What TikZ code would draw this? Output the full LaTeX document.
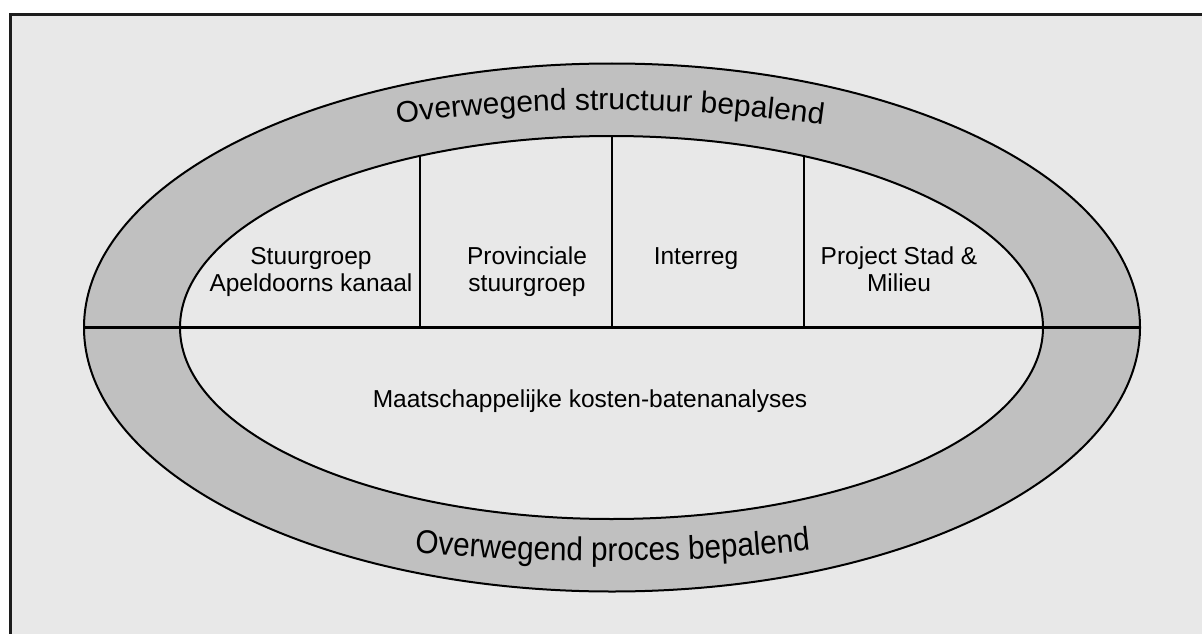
\documentclass[tikz,border=0pt]{standalone}
\usepackage{fontspec}
\setmainfont{Liberation Sans}
\newfontfamily\narrowsans[FakeStretch=0.9]{Liberation Sans}
\usetikzlibrary{shapes.geometric,decorations.text}
\definecolor{paper}{HTML}{E8E8E8}
\definecolor{ring}{HTML}{C0C0C0}
\definecolor{frame}{HTML}{1C1C1C}
\tikzset{
  ovalshape/.style={ellipse, inner sep=0pt, draw=black, line width=2pt},
  divider/.style={draw=black, line width=2.4pt},
  cell/.style={align=center, inner sep=0pt, anchor=north,
    font=\fontsize{24.5}{27}\selectfont},
  bandtext/.style={decorate, decoration={text along path, text align=center,
    text format delimiters={|}{|}}}
}
\begin{document}
\begin{tikzpicture}[x=1pt, y=-1pt]
  \clip (0,0) rectangle (1202,634);
  \fill[white] (0,0) rectangle (1202,634);
  % framed backdrop, running off the right and bottom edges
  \draw[frame, line width=3.5pt, fill=paper] (10.5,14.5) rectangle (1215,650);

  % grey band between the two ovals
  \node[ovalshape, fill=ring, minimum width=1056pt, minimum height=528pt] (outer) at (612,327.5) {};
  \node[ovalshape, fill=paper, minimum width=863pt, minimum height=383pt] (inner) at (611.5,327.5) {};

  % horizontal split and the upper compartments
  \draw[divider] (outer.west) -- (outer.east);
  \coordinate (c1t) at (420,156);
  \coordinate (c2t) at (612,136);
  \coordinate (c3t) at (804,156);
  \coordinate (c1b) at (420,328);
  \coordinate (c2b) at (612,328);
  \coordinate (c3b) at (804,328);
  \draw[divider] (c1t) -- (c1b);
  \draw[divider] (c2t) -- (c2b);
  \draw[divider] (c3t) -- (c3b);

  % compartment labels
  \node[cell] (stuur) at (311,247) {Stuurgroep\\Apeldoorns kanaal};
  \node[cell] (prov) at (527,247) {Provinciale\\stuurgroep};
  \node[cell] (inter) at (696,247) {Interreg};
  \node[cell] (proj) at (899,247) {Project Stad \&\\Milieu};
  \node[inner sep=0pt, anchor=base, font=\fontsize{24.5}{27}\selectfont] (mkba) at (590,407)
    {Maatschappelijke kosten-batenanalyses};

  % curved captions in the band
  \path[bandtext, decoration={text={|\fontsize{30}{36}\selectfont|Overwegend structuur bepalend}}]
    (370,127) .. controls (530,104) and (690,104) .. (850,129);
  \path[bandtext, decoration={text={|\narrowsans\fontsize{33}{38}\selectfont|Overwegend proces bepalend}}]
    (395,550) .. controls (530,565) and (690,565) .. (830,548);
\end{tikzpicture}
\end{document}
